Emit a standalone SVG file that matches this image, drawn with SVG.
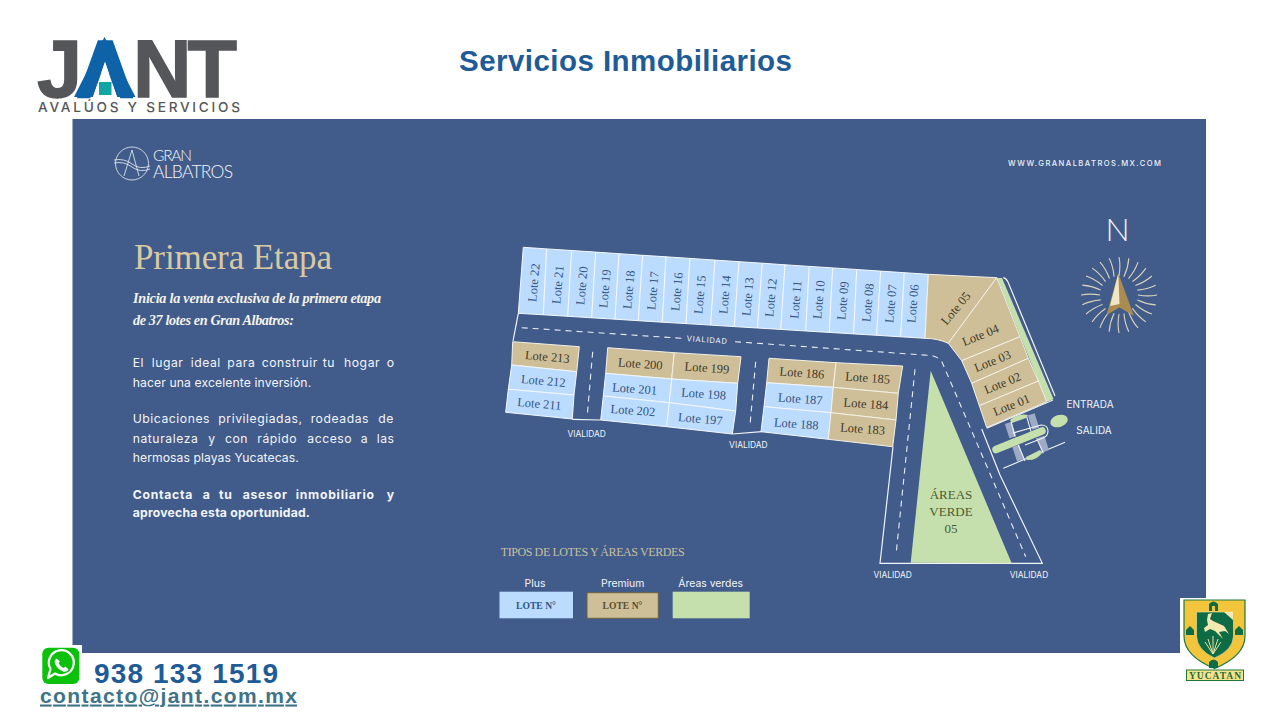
<svg xmlns="http://www.w3.org/2000/svg" xmlns:xlink="http://www.w3.org/1999/xlink" width="1280" height="720" viewBox="0 0 1280 720">
<style>
.plus{fill:#bcdcff;stroke:#f4f8fb;stroke-width:1}
.prem{fill:#cfbf98;stroke:#f4f1e6;stroke-width:1}
.lb{font-family:"Liberation Serif",serif;font-size:12.5px;fill:#34547f;text-anchor:middle}
.lt{font-family:"Liberation Serif",serif;font-size:12.5px;fill:#413a28;text-anchor:middle}
.road{fill:none;stroke:#f1f4f8;stroke-width:1.2}
.dash{fill:none;stroke:#e8edf3;stroke-width:1.1;stroke-dasharray:6 5}
.via{font-family:Inter,"Liberation Sans",sans-serif;font-size:8.4px;fill:#f2f4f8;text-anchor:middle}
.body{font-family:Inter,"Liberation Sans",sans-serif;font-size:12.2px;letter-spacing:.55px;fill:#f3f5f8}
.bold{font-weight:700;letter-spacing:.75px}
.ital{font-family:"Liberation Serif",serif;font-size:14.2px;font-style:italic;font-weight:700;fill:#f5f3ea}
.grey{fill:#9eabc6}
.wl{fill:none;stroke:#f1f4f8;stroke-width:1.1}
</style>
<defs>
<path id="ray" d="M0,-19 Q1.8,-29 0,-38" fill="none" stroke="#d9d4bb" stroke-width="1.1"/>
</defs>
<rect width="1280" height="720" fill="#ffffff"/>
<path id="panel" d="M72.5,119H1206V653H82V645H72.5Z" fill="#415c8b"/>
<rect x="1180" y="598" width="30" height="60" fill="#ffffff"/>

<g id="logo-jant">
<text y="97" font-family="'Liberation Sans',sans-serif" font-weight="700" font-size="81" fill="#555659" stroke="#555659" stroke-width="1.4" x="37 76 133 187.5">J<tspan fill="#0d62a8" stroke="#0d62a8">A</tspan>NT</text>
<path d="M104.5,37L74,97H93L105,62L117,97H135.5Z" fill="#0d62a8"/>
<path d="M105,62L93,97H117Z" fill="#ffffff"/>
<rect x="99" y="82" width="12.5" height="13" fill="#12a5a5"/>
<text x="38" y="112" font-family="Inter,'Liberation Sans',sans-serif" font-weight="500" font-size="13.6" fill="#555659" textLength="202" lengthAdjust="spacing">AVALÚOS Y SERVICIOS</text>
</g>
<text id="title" x="625.5" y="71" text-anchor="middle" font-family="'Liberation Sans',sans-serif" font-weight="700" font-size="29.5" fill="#1f5b97" textLength="333" lengthAdjust="spacing">Servicios Inmobiliarios</text>

<g id="logo-albatros">
<circle cx="132" cy="163.5" r="16.5" fill="none" stroke="#eef1f5" stroke-width="0.8"/>
<path d="M124,176L132,150L139,176M114,160Q124,158 132,164T150,166M114,163Q124,161 132,167T150,169" fill="none" stroke="#eef1f5" stroke-width="0.8"/>
<text x="153" y="160.5" font-family="Lato,sans-serif" font-weight="300" font-size="15.5" fill="#f3f5f8" textLength="39" lengthAdjust="spacing">GRAN</text>
<text x="153" y="178" font-family="Lato,sans-serif" font-weight="300" font-size="17.5" fill="#f3f5f8" textLength="80" lengthAdjust="spacing">ALBATROS</text>
</g>
<text id="web" x="1008" y="166" font-family="Inter,'Liberation Sans',sans-serif" font-size="7.6" font-weight="500" fill="#eef1f5" textLength="153" lengthAdjust="spacing">WWW.GRANALBATROS.MX.COM</text>

<g id="intro">
<text x="134" y="269" font-family="'Liberation Serif',serif" font-size="35" fill="#d9c9a2" textLength="198" lengthAdjust="spacing">Primera Etapa</text>
<text class="ital" x="133" y="303" textLength="248" lengthAdjust="spacing">Inicia la venta exclusiva de la primera etapa</text>
<text class="ital" x="133" y="325" textLength="161" lengthAdjust="spacing">de 37 lotes en Gran Albatros:</text>
<text class="body" y="367"><tspan x="132.7">El</tspan><tspan x="151.7">lugar</tspan><tspan x="190.7">ideal</tspan><tspan x="227.3">para</tspan><tspan x="261.7">construir</tspan><tspan x="322.7">tu</tspan><tspan x="344">hogar</tspan><tspan x="386.7">o</tspan></text>
<text class="body" x="132.7" y="386.5" textLength="179" lengthAdjust="spacing">hacer una excelente inversión.</text>
<text class="body" y="423.3"><tspan x="132.7">Ubicaciones</tspan><tspan x="218.3">privilegiadas,</tspan><tspan x="310.7">rodeadas</tspan><tspan x="378.3">de</tspan></text>
<text class="body" y="442.7"><tspan x="132.7">naturaleza</tspan><tspan x="208.3">y</tspan><tspan x="225">con</tspan><tspan x="257.3">rápido</tspan><tspan x="307.3">acceso</tspan><tspan x="360.7">a</tspan><tspan x="376.7">las</tspan></text>
<text class="body" x="132.7" y="461.7" textLength="166.6" lengthAdjust="spacing">hermosas playas  Yucatecas.</text>
<text class="body bold" y="499"><tspan x="132.7">Contacta</tspan><tspan x="202.7">a</tspan><tspan x="219">tu</tspan><tspan x="242.7">asesor</tspan><tspan x="295.7">inmobiliario</tspan><tspan x="386.7">y</tspan></text>
<text class="body bold" x="132.7" y="517.3" textLength="178" lengthAdjust="spacing">aprovecha esta oportunidad.</text>
</g>

<g id="connectors">
<path class="road" d="M518.3,313.3L513,341"/>
<path class="road" d="M572.3,419.3L600.7,420"/>
<path class="road" d="M732.3,434L761.7,431.7"/>
<path class="road" d="M893,446.7L880,563.3H1042.3L1000,475L981.7,429"/>
<path class="dash" d="M521.7,327.7L681.7,338.3"/>
<path class="dash" d="M735,341.7L931,355.5Q938,356.5 942,362L1025.7,556.7"/>
<path class="dash" d="M592.7,351.7L587.3,415"/>
<path class="dash" d="M755.7,361.7L750,425"/>
<path class="dash" d="M915,369.3L896,555"/>
<path class="wl" d="M986.7,428.3L1053,400M1003.3,468.3L1065,442.3"/>
<path class="road" d="M1003.3,277.7Q1006,278 1008,282L1055,396"/>
</g>

<g id="entrada">
<path d="M1010,420Q1018,413 1028,415L1026,418L1012,423Z" fill="#c5e0ad"/>
<path d="M1026.7,460Q1036,461 1042,453L1040,450L1026,457Z" fill="#c5e0ad"/>
<g class="grey">
<rect x="-3.5" y="-7.5" width="7" height="15" transform="translate(1010.5,430) rotate(-18)"/>
<rect x="-3.5" y="-7.5" width="7" height="15" transform="translate(1033.5,421.5) rotate(-18)"/>
<rect x="-3.5" y="-7.5" width="7" height="15" transform="translate(1018,453) rotate(-18)"/>
<rect x="-3.5" y="-7.5" width="7" height="15" transform="translate(1043.3,444) rotate(-18)"/>
</g>
<path class="wl" d="M1011,421.7L1015,436.7M1026.7,416.7L1031,431.7M1018.3,445L1025,461M1036.7,438.3L1043.3,453.3"/>
<path d="M996,449.5L1042,431" fill="none" stroke="#c5e0ad" stroke-width="7.5" stroke-linecap="round"/>
<path class="wl" d="M1013,433L1041,425Q1048,425 1048,431Q1048,436 1043,438L1025,445"/>
<ellipse cx="1059" cy="421" rx="9" ry="6" transform="rotate(-18 1059 421)" fill="#c5e0ad"/>
</g>

<g id="area-verde">
<path d="M930.7,370.7L910.7,562.7L1011.7,563.3Z" fill="#c5e0ad"/>
<g font-family="'Liberation Serif',serif" font-size="13" fill="#4d5a30" text-anchor="middle">
<text x="951" y="499">ÁREAS</text><text x="951" y="516">VERDE</text><text x="951" y="533">05</text>
</g>
</g>

<g id="lote-22"><path class="plus" d="M523.3,247.3L546.7,248.9L543.3,314.8L518.3,313.3Z"/><text class="lb" transform="translate(538,283) rotate(-85)">Lote 22</text></g>
<g id="lote-21"><path class="plus" d="M546.7,248.9L571.7,250.5L567.7,316.3L543.3,314.8Z"/><text class="lb" transform="translate(562,285) rotate(-85)">Lote 21</text></g>
<g id="lote-20"><path class="plus" d="M571.7,250.5L595.7,252.1L591.7,317.8L567.7,316.3Z"/><text class="lb" transform="translate(586,286) rotate(-85)">Lote 20</text></g>
<g id="lote-19"><path class="plus" d="M595.7,252.1L619,253.7L615,319.2L591.7,317.8Z"/><text class="lb" transform="translate(609,289) rotate(-85)">Lote 19</text></g>
<g id="lote-18"><path class="plus" d="M619,253.7L642.7,255.3L638.3,320.7L615,319.2Z"/><text class="lb" transform="translate(633,290) rotate(-85)">Lote 18</text></g>
<g id="lote-17"><path class="plus" d="M642.7,255.3L666,256.8L662.3,322.2L638.3,320.7Z"/><text class="lb" transform="translate(657,291) rotate(-85)">Lote 17</text></g>
<g id="lote-16"><path class="plus" d="M666,256.8L690,258.4L686,323.6L662.3,322.2Z"/><text class="lb" transform="translate(681,292) rotate(-85)">Lote 16</text></g>
<g id="lote-15"><path class="plus" d="M690,258.4L715,260.1L710.7,325.1L686,323.6Z"/><text class="lb" transform="translate(704,295) rotate(-85)">Lote 15</text></g>
<g id="lote-14"><path class="plus" d="M715,260.1L739,261.7L734.3,326.6L710.7,325.1Z"/><text class="lb" transform="translate(729,295) rotate(-85)">Lote 14</text></g>
<g id="lote-13"><path class="plus" d="M739,261.7L762.3,263.2L757.5,328L734.3,326.6Z"/><text class="lb" transform="translate(752,297) rotate(-85)">Lote 13</text></g>
<g id="lote-12"><path class="plus" d="M762.3,263.2L785,264.8L780.7,329.4L757.5,328Z"/><text class="lb" transform="translate(775,298) rotate(-85)">Lote 12</text></g>
<g id="lote-11"><path class="plus" d="M785,264.8L809.3,266.4L805.7,331L780.7,329.4Z"/><text class="lb" transform="translate(800,300) rotate(-85)">Lote 11</text></g>
<g id="lote-10"><path class="plus" d="M809.3,266.4L832.7,267.9L829.3,332.4L805.7,331Z"/><text class="lb" transform="translate(823,300) rotate(-85)">Lote 10</text></g>
<g id="lote-09"><path class="plus" d="M832.7,267.9L856.7,269.5L853.7,333.9L829.3,332.4Z"/><text class="lb" transform="translate(847,301) rotate(-85)">Lote 09</text></g>
<g id="lote-08"><path class="plus" d="M856.7,269.5L880.7,271.1L876.7,335.3L853.7,333.9Z"/><text class="lb" transform="translate(872,303) rotate(-85)">Lote 08</text></g>
<g id="lote-07"><path class="plus" d="M880.7,271.1L904.3,272.7L900.7,336.8L876.7,335.3Z"/><text class="lb" transform="translate(895,304) rotate(-85)">Lote 07</text></g>
<g id="lote-06"><path class="plus" d="M904.3,272.7L928.3,274.3L925,338.3L900.7,336.8Z"/><text class="lb" transform="translate(917,304) rotate(-85)">Lote 06</text></g>

<path id="franja-verde" d="M997,278L1002,278L1053.5,399L1046.7,402Z" fill="#c5e0ad"/>
<g id="lote-05"><path class="prem" d="M928.3,274.3L996.7,277.7L948.3,343.3Q938,338.5 925,338.3Z"/><text class="lt" transform="translate(959,311) rotate(-50)">Lote 05</text></g>
<g id="lote-04"><path class="prem" d="M996.7,277.7L1020,336.7L961.7,360.7L948.3,343.3Z"/><text class="lt" transform="translate(982,339) rotate(-22)">Lote 04</text></g>
<g id="lote-03"><path class="prem" d="M1020,336.7L1028.3,358.3L971.7,383.3L961.7,360.7Z"/><text class="lt" transform="translate(994,365) rotate(-22)">Lote 03</text></g>
<g id="lote-02"><path class="prem" d="M1028.3,358.3L1038.3,381L979.3,405.7L971.7,383.3Z"/><text class="lt" transform="translate(1004,387) rotate(-22)">Lote 02</text></g>
<g id="lote-01"><path class="prem" d="M1038.3,381L1046.7,401.7L986.7,427.5L979.3,405.7Z"/><text class="lt" transform="translate(1013,409) rotate(-22)">Lote 01</text></g>

<g id="lote-213"><path class="prem" d="M512.7,341.7L579.3,346.7L576.7,371.7L511.7,365Z"/><text class="lt" transform="translate(547,361) rotate(5)">Lote 213</text></g>
<g id="lote-212"><path class="plus" d="M511.7,365L576.7,371.7L574,395L508.3,389.3Z"/><text class="lb" transform="translate(543,385) rotate(5)">Lote 212</text></g>
<g id="lote-211"><path class="plus" d="M508.3,389.3L574,395L572.3,419L505.7,412.3Z"/><text class="lb" transform="translate(539,408) rotate(5)">Lote 211</text></g>
<g id="lote-200"><path class="prem" d="M607.7,347.7L674.3,352.7L671.7,379L605.7,373.3Z"/><text class="lt" transform="translate(640,368) rotate(4)">Lote 200</text></g>
<g id="lote-199"><path class="prem" d="M674.3,352.7L741,356.7L737.7,383.3L671.7,379Z"/><text class="lt" transform="translate(706.7,372) rotate(4)">Lote 199</text></g>
<g id="lote-201"><path class="plus" d="M605.7,373.3L671.7,379L669.3,402.7L603.3,396Z"/><text class="lb" transform="translate(634.3,393) rotate(4)">Lote 201</text></g>
<g id="lote-198"><path class="plus" d="M671.7,379L737.7,383.3L735.7,411L669.3,402.7Z"/><text class="lb" transform="translate(703.3,398) rotate(4)">Lote 198</text></g>
<g id="lote-202"><path class="plus" d="M603.3,396L669.3,402.7L666.7,426.7L600.7,420Z"/><text class="lb" transform="translate(632.7,414.5) rotate(4)">Lote 202</text></g>
<g id="lote-197"><path class="plus" d="M669.3,402.7L735.7,411L732.3,434L666.7,426.7Z"/><text class="lb" transform="translate(700,423) rotate(5)">Lote 197</text></g>
<g id="lote-186"><path class="prem" d="M769,358.3L836,362.7L833.3,387.3L766.7,382.7Z"/><text class="lt" transform="translate(801.7,377) rotate(4)">Lote 186</text></g>
<g id="lote-185"><path class="prem" d="M836,362.7L902.7,366L898.3,393.3L833.3,387.3Z"/><text class="lt" transform="translate(867.3,382) rotate(4)">Lote 185</text></g>
<g id="lote-187"><path class="plus" d="M766.7,382.7L833.3,387.3L831,412.7L764,406.7Z"/><text class="lb" transform="translate(800,403) rotate(4)">Lote 187</text></g>
<g id="lote-184"><path class="prem" d="M833.3,387.3L898.3,393.3L896,420L831,412.7Z"/><text class="lt" transform="translate(865.7,408) rotate(4)">Lote 184</text></g>
<g id="lote-188"><path class="plus" d="M764,406.7L831,412.7L828.3,439.3L761,431.7Z"/><text class="lb" transform="translate(796,428) rotate(4)">Lote 188</text></g>
<g id="lote-183"><path class="prem" d="M831,412.7L896,420L892.7,446.7L828.3,439.3Z"/><text class="lt" transform="translate(862.3,433) rotate(4)">Lote 183</text></g>

<g id="labels">
<text class="via" transform="translate(707,342.5) rotate(4)" letter-spacing="0.8" style="font-size:7.6px">VIALIDAD</text>
<text class="via" x="586.7" y="436.5">VIALIDAD</text>
<text class="via" x="748.3" y="448">VIALIDAD</text>
<text class="via" x="892.7" y="578">VIALIDAD</text>
<text class="via" x="1029" y="578">VIALIDAD</text>
<text class="via" x="1090" y="407.5" style="font-size:10px">ENTRADA</text>
<text class="via" x="1094" y="433.5" style="font-size:10px">SALIDA</text>
</g>

<g id="norte">
<text x="1117.5" y="241" text-anchor="middle" font-family="Lato,sans-serif" font-weight="300" font-size="32" fill="#f2f5f9">N</text>
<g transform="translate(1119,295)">
<use href="#ray" transform="rotate(0)"/><use href="#ray" transform="rotate(15)"/><use href="#ray" transform="rotate(30)"/><use href="#ray" transform="rotate(45)"/><use href="#ray" transform="rotate(60)"/><use href="#ray" transform="rotate(75)"/><use href="#ray" transform="rotate(90)"/><use href="#ray" transform="rotate(105)"/><use href="#ray" transform="rotate(120)"/><use href="#ray" transform="rotate(135)"/><use href="#ray" transform="rotate(150)"/><use href="#ray" transform="rotate(165)"/><use href="#ray" transform="rotate(180)"/><use href="#ray" transform="rotate(195)"/><use href="#ray" transform="rotate(210)"/><use href="#ray" transform="rotate(225)"/><use href="#ray" transform="rotate(240)"/><use href="#ray" transform="rotate(255)"/><use href="#ray" transform="rotate(270)"/><use href="#ray" transform="rotate(285)"/><use href="#ray" transform="rotate(300)"/><use href="#ray" transform="rotate(315)"/><use href="#ray" transform="rotate(330)"/><use href="#ray" transform="rotate(345)"/>
</g>
<path d="M1118.3,273.3L1106.5,315L1119.5,307.5L1134,316Z" fill="#ab8c50"/>
<path d="M1118.3,273.3L1110,306L1119.5,304Z" fill="#f0e6c6"/>
</g>

<g id="leyenda">
<text x="500.7" y="555.7" font-family="'Liberation Serif',serif" font-size="12" fill="#c9bfa0" textLength="184" lengthAdjust="spacing">TIPOS DE LOTES Y ÁREAS VERDES</text>
<g font-family="Inter,'Liberation Sans',sans-serif" font-size="10.4" fill="#f2f4f8" text-anchor="middle">
<text x="535" y="587">Plus</text><text x="622.7" y="587">Premium</text><text x="710.7" y="587">Áreas verdes</text>
</g>
<rect x="499.5" y="591.7" width="73.5" height="26.6" fill="#bcdcff"/>
<rect x="587" y="592.7" width="71.3" height="25.6" fill="#cfbf98" stroke="#6b5f3f" stroke-width="1"/>
<rect x="672.7" y="591.7" width="77" height="26.6" fill="#c5e0ad"/>
<g font-family="'Liberation Serif',serif" font-size="9.6" font-weight="700" text-anchor="middle">
<text x="536" y="608.5" fill="#2f5488">LOTE N°</text><text x="622.5" y="608.5" fill="#5a4e30">LOTE N°</text>
</g>
</g>

<g id="contacto">
<rect x="42.3" y="647.7" width="37" height="36.3" rx="6" fill="#0cc10c"/>
<path d="M48,678L50.5,669A12.5,12.5 0 1 1 55,673.5Z" fill="none" stroke="#ffffff" stroke-width="2.2" stroke-linejoin="round"/>
<path d="M56.5,658.5Q54,660 55,663.5Q57,669 63,671.5Q66.5,672.5 68.5,669.5L65.5,666.5L63.5,668Q60,666.5 58.5,663L60,661.5Z" fill="#ffffff"/>
<text x="94" y="683" font-family="'Liberation Sans',sans-serif" font-weight="700" font-size="28" fill="#1f5b97" textLength="184" lengthAdjust="spacing">938 133 1519</text>
<text x="40" y="702.5" font-family="'Liberation Sans',sans-serif" font-weight="700" font-size="21" fill="#3f7387" text-decoration="underline" textLength="257" lengthAdjust="spacing">contacto@jant.com.mx</text>
</g>

<g id="escudo">
<path d="M1184,600H1245V636Q1245,656 1214.5,668.5Q1184,656 1184,636Z" fill="#f2c53c" stroke="#1e7a3c" stroke-width="1.2"/>
<path d="M1196.5,612H1233.5V636Q1233,650 1214.5,658Q1197,650 1196.5,636Z" fill="#0d6b45" stroke="#f7e9a0" stroke-width="0.6"/>
<path d="M1208,614L1212,613L1210,619L1213,621L1224,626L1229,634L1225,631L1219,632L1223,639L1215,631L1210,629L1205,632L1204,628L1208,625L1207,620Z" fill="#f3e8b0"/>
<path d="M1213,654L1205,642M1213,654L1208,639M1213,654L1213,636M1213,654L1218,639M1213,654L1221,642" stroke="#efe2a0" stroke-width="1" fill="none"/>
<path d="M1224,612L1233,612L1233,620Z" fill="#f3e8b0"/>
<path d="M1209,611V604Q1213.5,599 1218,604V611H1215V606H1212V611Z" fill="#0d6b45"/>
<path d="M1209,668V662Q1213.5,657 1218,662V668Z" fill="#0d6b45"/>
<path d="M1186,635V630L1190,626L1194,630V635Z" fill="#0d6b45"/>
<path d="M1235,635V630L1239,626L1243,630V635Z" fill="#0d6b45"/>
<rect x="1186.5" y="670" width="57" height="10.5" fill="#f7e38a" stroke="#1e7a3c" stroke-width="1"/>
<text x="1215" y="679" text-anchor="middle" font-family="'Liberation Serif',serif" font-weight="700" font-size="9.5" fill="#1e6b3c" textLength="52" lengthAdjust="spacing">YUCATAN</text>
</g>
</svg>
